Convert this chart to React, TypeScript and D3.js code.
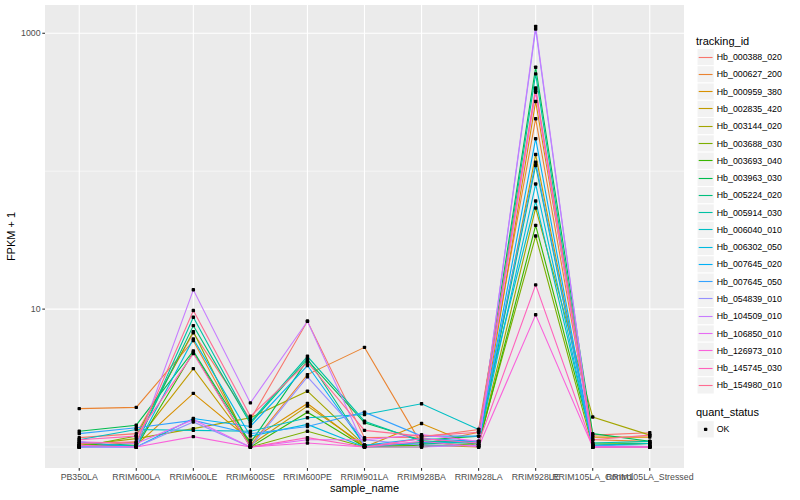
import { useRef, useEffect } from "react";
import * as d3 from "d3";

const samples = [
  "PB350LA", "RRIM600LA", "RRIM600LE", "RRIM600SE", "RRIM600PE", "RRIM901LA",
  "RRIM928BA", "RRIM928LA", "RRIM928LE", "RRIM105LA_Control", "RRIM105LA_Stressed",
];

const trackingIds = [
  "Hb_000388_020", "Hb_000627_200", "Hb_000959_380", "Hb_002835_420", "Hb_003144_020",
  "Hb_003688_030", "Hb_003693_040", "Hb_003963_030", "Hb_005224_020", "Hb_005914_030",
  "Hb_006040_010", "Hb_006302_050", "Hb_007645_020", "Hb_007645_050", "Hb_054839_010",
  "Hb_104509_010", "Hb_106850_010", "Hb_126973_010", "Hb_145745_030", "Hb_154980_010",
];

// FPKM + 1, one row per tracking_id, columns in sample order
const fpkm: number[][] = [
  [1.17, 1.25, 6.72, 1.58, 8.16, 1.17, 1.18, 1.34, 386, 1.22, 1.27],
  [1.9, 1.94, 5.91, 1.03, 3.35, 5.28, 1.05, 1.28, 240, 1.13, 1.1],
  [1.03, 1.03, 2.45, 1.12, 2.07, 1.0, 1.48, 1.0, 320, 1.18, 1.18],
  [1.0, 1.09, 3.7, 1.03, 1.98, 1.03, 1.03, 1.0, 132, 1.03, 1.06],
  [1.03, 1.15, 1.36, 1.63, 2.54, 1.03, 1.08, 1.03, 54.1, 1.65, 1.22],
  [1.0, 1.2, 6.87, 1.0, 1.3, 1.0, 1.0, 1.07, 33.9, 1.0, 1.01],
  [1.06, 1.0, 4.86, 1.0, 1.79, 1.0, 1.03, 1.03, 40.5, 1.07, 1.06],
  [1.3, 1.44, 4.98, 1.07, 4.26, 1.5, 1.12, 1.2, 567, 1.25, 1.1],
  [1.0, 1.06, 7.59, 1.48, 4.38, 1.03, 1.05, 1.1, 110, 1.03, 1.06],
  [1.0, 1.03, 8.72, 1.52, 4.55, 1.54, 1.1, 1.1, 508, 1.07, 1.1],
  [1.13, 1.34, 1.32, 1.3, 1.63, 1.72, 2.06, 1.34, 60.8, 1.03, 1.06],
  [1.0, 1.0, 6.08, 1.2, 1.46, 1.0, 1.08, 1.07, 80.7, 1.0, 1.01],
  [1.09, 1.0, 1.61, 1.41, 3.9, 1.03, 1.15, 1.1, 172, 1.0, 1.0],
  [1.25, 1.38, 1.56, 1.25, 1.41, 1.79, 1.2, 1.2, 116, 1.03, 1.01],
  [1.0, 1.0, 1.52, 1.0, 3.23, 1.13, 1.03, 1.03, 1074, 1.0, 1.0],
  [1.0, 1.0, 13.8, 2.09, 8.16, 1.0, 1.0, 1.03, 1122, 1.0, 1.0],
  [1.09, 1.06, 1.58, 1.0, 1.13, 1.13, 1.23, 1.1, 374, 1.0, 1.0],
  [1.03, 1.0, 1.19, 1.0, 1.07, 1.0, 1.1, 1.0, 9.1, 1.0, 1.0],
  [1.13, 1.2, 4.76, 1.0, 1.17, 1.0, 1.15, 1.07, 15.0, 1.0, 1.0],
  [1.06, 1.09, 9.76, 1.67, 4.12, 1.32, 1.2, 1.28, 402, 1.13, 1.22],
];

const yTicks = [10, 1000];
const yMinor = [1, 100];

// ggplot2 default hue palette for 20 levels
const palette = [
  "#F8766D", "#EA8331", "#D89000", "#C09B00", "#A3A500", "#7CAE00", "#39B600",
  "#00BB4E", "#00BF7D", "#00C1A3", "#00BFC4", "#00BAE0", "#00B0F6", "#35A2FF",
  "#9590FF", "#C77CFF", "#E76BF3", "#FA62DB", "#FF62BC", "#FF6C91",
];

const FONT = "'Liberation Sans', Arial, Helvetica, sans-serif";

export default function App() {
  const svgRef = useRef<SVGSVGElement>(null);

  useEffect(() => {
    if (!svgRef.current) return;
    const svg = d3.select(svgRef.current);
    svg.selectAll("*").remove();
    svg.attr("font-family", FONT);

    const left = 45, right = 684, top = 5, bottom = 468;

    const x = d3.scalePoint<string>().domain(samples).range([left, right]).padding(0.6);
    const y = d3.scaleLog().domain([Math.pow(10, -0.152), Math.pow(10, 3.205)]).range([bottom, top]);

    svg.append("rect")
      .attr("width", 800).attr("height", 500).attr("fill", "white");

    // panel
    svg.append("rect")
      .attr("x", left).attr("y", top)
      .attr("width", right - left).attr("height", bottom - top)
      .attr("fill", "#EBEBEB");

    const grid = svg.append("g");
    grid.selectAll("line.minor")
      .data(yMinor)
      .enter().append("line")
      .attr("x1", left).attr("x2", right)
      .attr("y1", (d) => y(d)).attr("y2", (d) => y(d))
      .attr("stroke", "white").attr("stroke-width", 0.55);
    grid.selectAll("line.majory")
      .data(yTicks)
      .enter().append("line")
      .attr("x1", left).attr("x2", right)
      .attr("y1", (d) => y(d)).attr("y2", (d) => y(d))
      .attr("stroke", "white").attr("stroke-width", 1.1);
    grid.selectAll("line.majorx")
      .data(samples)
      .enter().append("line")
      .attr("x1", (d) => x(d)!).attr("x2", (d) => x(d)!)
      .attr("y1", top).attr("y2", bottom)
      .attr("stroke", "white").attr("stroke-width", 1.1);

    // lines
    const line = d3.line<number>()
      .x((_, i) => x(samples[i])!)
      .y((d) => y(d));

    svg.append("g")
      .selectAll("path")
      .data(fpkm)
      .enter().append("path")
      .attr("d", (d) => line(d))
      .attr("fill", "none")
      .attr("stroke", (_, i) => palette[i])
      .attr("stroke-width", 1.1);

    // points
    const pts = fpkm.flatMap((row) => row.map((v, j) => ({ s: samples[j], v })));
    svg.append("g")
      .selectAll("rect")
      .data(pts)
      .enter().append("rect")
      .attr("x", (d) => x(d.s)! - 1.7)
      .attr("y", (d) => y(d.v) - 1.7)
      .attr("width", 3.4).attr("height", 3.4)
      .attr("rx", 0.8)
      .attr("fill", "black");

    // y axis
    const ya = svg.append("g");
    ya.selectAll("line")
      .data(yTicks)
      .enter().append("line")
      .attr("x1", left - 2.7).attr("x2", left)
      .attr("y1", (d) => y(d)).attr("y2", (d) => y(d))
      .attr("stroke", "#333333").attr("stroke-width", 1.1);
    ya.selectAll("text")
      .data(yTicks)
      .enter().append("text")
      .attr("x", left - 4.4)
      .attr("y", (d) => y(d))
      .attr("dy", "0.35em")
      .attr("text-anchor", "end")
      .attr("font-size", 8.8)
      .attr("fill", "#4D4D4D")
      .text((d) => String(d));

    // x axis
    const xa = svg.append("g");
    xa.selectAll("line")
      .data(samples)
      .enter().append("line")
      .attr("x1", (d) => x(d)!).attr("x2", (d) => x(d)!)
      .attr("y1", bottom).attr("y2", bottom + 2.7)
      .attr("stroke", "#333333").attr("stroke-width", 1.1);
    xa.selectAll("text")
      .data(samples)
      .enter().append("text")
      .attr("x", (d) => x(d)!)
      .attr("y", bottom + 12)
      .attr("text-anchor", "middle")
      .attr("font-size", 8.8)
      .attr("fill", "#4D4D4D")
      .text((d) => d);

    // axis titles
    svg.append("text")
      .attr("x", (left + right) / 2)
      .attr("y", 492)
      .attr("text-anchor", "middle")
      .attr("font-size", 11)
      .attr("fill", "black")
      .text("sample_name");
    svg.append("text")
      .attr("transform", `translate(15,${(top + bottom) / 2}) rotate(-90)`)
      .attr("text-anchor", "middle")
      .attr("font-size", 11)
      .attr("fill", "black")
      .text("FPKM + 1");

    // legend: tracking_id
    const keyH = 17.28;
    const keyY = (i: number) => 48.4 + i * keyH;
    const lg = svg.append("g");
    lg.append("text")
      .attr("x", 696).attr("y", 44.5)
      .attr("font-size", 11).attr("fill", "black")
      .text("tracking_id");
    const items = lg.selectAll("g.item")
      .data(trackingIds)
      .enter().append("g");
    items.append("rect")
      .attr("x", 697).attr("y", (_, i) => keyY(i))
      .attr("width", keyH).attr("height", keyH)
      .attr("fill", "#F2F2F2").attr("stroke", "white").attr("stroke-width", 1);
    // snap key lines to the pixel grid so they keep their colour
    items.append("line")
      .attr("x1", 698.7).attr("x2", 697 + keyH - 1.7)
      .attr("y1", (_, i) => Math.floor(keyY(i) + keyH / 2) + 0.5)
      .attr("y2", (_, i) => Math.floor(keyY(i) + keyH / 2) + 0.5)
      .attr("stroke", (_, i) => palette[i]).attr("stroke-width", 1.1);
    items.append("text")
      .attr("x", 697 + keyH + 2.5).attr("y", (_, i) => keyY(i) + keyH / 2)
      .attr("dy", "0.35em")
      .attr("font-size", 8.8).attr("fill", "black")
      .text((d) => d);

    // legend: quant_status
    lg.append("text")
      .attr("x", 696).attr("y", 416)
      .attr("font-size", 11).attr("fill", "black")
      .text("quant_status");
    const q = lg.append("g").attr("transform", `translate(697,420.7)`);
    q.append("rect")
      .attr("width", keyH).attr("height", keyH)
      .attr("fill", "#F2F2F2").attr("stroke", "white").attr("stroke-width", 1);
    q.append("rect")
      .attr("x", keyH / 2 - 1.7).attr("y", keyH / 2 - 1.7)
      .attr("width", 3.4).attr("height", 3.4).attr("rx", 0.8)
      .attr("fill", "black");
    q.append("text")
      .attr("x", keyH + 2.5).attr("y", keyH / 2)
      .attr("dy", "0.35em")
      .attr("font-size", 8.8).attr("fill", "black")
      .text("OK");
  }, []);

  return (
    <svg
      ref={svgRef}
      width={800}
      height={500}
      style={{ position: "absolute", left: 0, top: 0, display: "block" }}
    />
  );
}
